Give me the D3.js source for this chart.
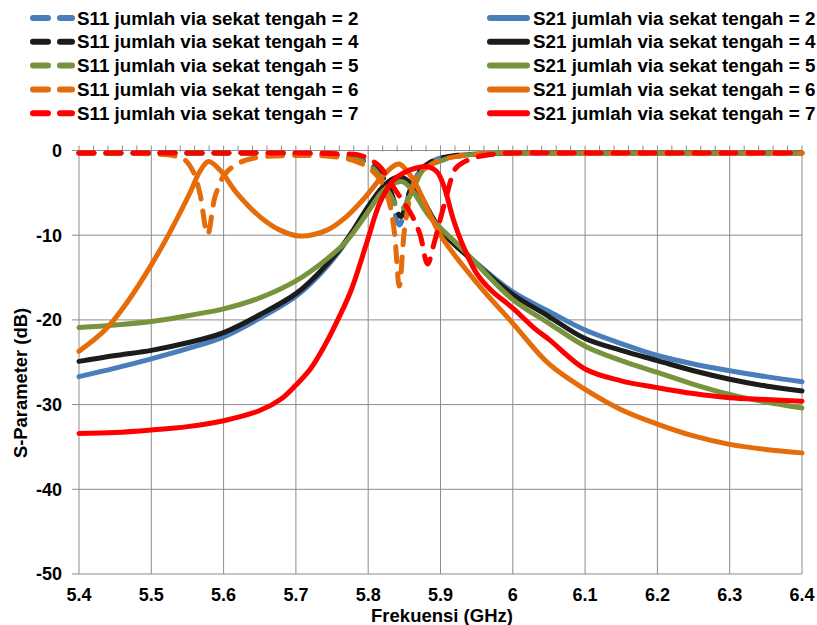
<!DOCTYPE html>
<html lang="en">
<head>
    <meta charset="UTF-8">
    <title>S-Parameter vs Frekuensi</title>
    <script src="https://d3js.org/d3.v7.min.js"></script>
    <style>
        body { margin: 0; background: #fff; }
        text { font-family: "Liberation Sans", Arial, sans-serif; font-weight: bold; fill: #000; }
    </style>
</head>
<body>
<svg width="817" height="625"></svg>

<script>
    // values: [frequency GHz, dB]
    const s11_n2 = [[5.4,-0.3],[5.5,-0.3],[5.6,-0.3],[5.7,-0.35],[5.75,-0.5],[5.78,-0.9],[5.8,-1.5],[5.815,-2.7],[5.83,-5.0],[5.843,-8.8],[5.856,-5.3],[5.87,-2.6],[5.89,-1.2],[5.92,-0.6],[5.96,-0.4],[6.0,-0.3],[6.1,-0.3],[6.2,-0.3],[6.3,-0.3],[6.4,-0.3]];
    const s11_n4 = [[5.4,-0.3],[5.5,-0.3],[5.6,-0.3],[5.7,-0.35],[5.75,-0.5],[5.78,-0.9],[5.8,-1.5],[5.815,-2.6],[5.83,-4.6],[5.845,-7.8],[5.857,-4.9],[5.87,-2.5],[5.89,-1.2],[5.92,-0.6],[5.96,-0.4],[6.0,-0.3],[6.1,-0.3],[6.2,-0.3],[6.3,-0.3],[6.4,-0.3]];
    const s11_n5 = [[5.4,-0.3],[5.5,-0.3],[5.6,-0.3],[5.7,-0.35],[5.75,-0.5],[5.78,-0.9],[5.798,-1.5],[5.816,-3.0],[5.83,-5.2],[5.845,-7.0],[5.862,-4.6],[5.876,-2.3],[5.904,-1.1],[5.94,-0.5],[6.0,-0.3],[6.1,-0.3],[6.2,-0.3],[6.3,-0.3],[6.4,-0.3]];
    const s11_n6 = [[5.4,-0.3],[5.45,-0.3],[5.5,-0.4],[5.53,-0.6],[5.545,-1.0],[5.558,-2.5],[5.567,-5.0],[5.578,-9.9],[5.588,-5.5],[5.6,-3.0],[5.613,-1.9],[5.632,-1.1],[5.66,-0.7],[5.7,-0.6],[5.75,-0.7],[5.78,-1.2],[5.8,-2.0],[5.815,-3.3],[5.828,-5.8],[5.836,-9.5],[5.843,-16.0],[5.85,-9.5],[5.858,-5.5],[5.867,-3.1],[5.89,-1.5],[5.905,-1.0],[5.94,-0.5],[6.0,-0.3],[6.1,-0.3],[6.2,-0.3],[6.3,-0.3],[6.4,-0.3]];
    const s11_n7 = [[5.4,-0.3],[5.5,-0.3],[5.6,-0.3],[5.7,-0.3],[5.75,-0.35],[5.79,-0.6],[5.803,-1.1],[5.816,-1.9],[5.834,-4.2],[5.848,-6.0],[5.86,-7.6],[5.872,-10.0],[5.882,-13.4],[5.891,-11.0],[5.9,-8.0],[5.908,-5.5],[5.915,-3.3],[5.922,-2.0],[5.945,-0.9],[5.977,-0.4],[6.0,-0.3],[6.1,-0.3],[6.2,-0.3],[6.3,-0.3],[6.4,-0.3]];

    const s21_n2 = [[5.4,-26.7],[5.45,-25.7],[5.5,-24.6],[5.55,-23.4],[5.6,-22.0],[5.65,-19.8],[5.7,-17.2],[5.73,-14.9],[5.76,-11.9],[5.78,-9.4],[5.8,-6.7],[5.82,-4.4],[5.835,-3.4],[5.845,-3.2],[5.855,-3.7],[5.87,-5.1],[5.9,-9.3],[5.95,-13.3],[6.0,-16.7],[6.05,-19.0],[6.1,-21.2],[6.15,-22.8],[6.2,-24.2],[6.25,-25.2],[6.3,-26.0],[6.35,-26.7],[6.4,-27.3]];
    const s21_n4 = [[5.4,-24.9],[5.45,-24.2],[5.5,-23.6],[5.55,-22.7],[5.6,-21.5],[5.65,-19.4],[5.7,-16.9],[5.73,-14.6],[5.76,-11.7],[5.78,-9.3],[5.8,-6.6],[5.82,-4.3],[5.835,-3.3],[5.845,-3.1],[5.855,-3.6],[5.87,-5.0],[5.9,-9.4],[5.95,-13.4],[6.0,-17.0],[6.05,-19.6],[6.1,-22.2],[6.15,-23.6],[6.2,-24.8],[6.25,-26.0],[6.3,-27.0],[6.35,-27.8],[6.4,-28.4]];
    const s21_n5 = [[5.4,-20.9],[5.45,-20.6],[5.5,-20.2],[5.55,-19.5],[5.6,-18.7],[5.65,-17.4],[5.7,-15.4],[5.74,-13.0],[5.77,-10.7],[5.8,-7.2],[5.82,-4.8],[5.835,-3.9],[5.848,-3.7],[5.86,-4.6],[5.885,-7.8],[5.93,-11.6],[6.0,-17.6],[6.05,-20.4],[6.1,-23.1],[6.15,-24.8],[6.2,-26.2],[6.25,-27.6],[6.3,-28.8],[6.35,-29.7],[6.4,-30.4]];
    const s21_n6 = [[5.4,-23.7],[5.436,-21.2],[5.466,-18.0],[5.5,-13.5],[5.526,-9.6],[5.554,-4.9],[5.567,-2.5],[5.579,-1.3],[5.595,-2.3],[5.618,-5.0],[5.65,-7.8],[5.678,-9.4],[5.706,-10.1],[5.743,-9.4],[5.77,-7.8],[5.798,-5.3],[5.816,-3.4],[5.834,-1.9],[5.843,-1.6],[5.862,-3.4],[5.88,-6.5],[5.9,-10.0],[5.95,-15.6],[6.0,-20.4],[6.05,-25.2],[6.1,-28.2],[6.15,-30.6],[6.2,-32.3],[6.25,-33.7],[6.3,-34.7],[6.35,-35.3],[6.4,-35.7]];
    const s21_n7 = [[5.4,-33.4],[5.45,-33.3],[5.5,-33.0],[5.55,-32.6],[5.6,-31.9],[5.65,-30.7],[5.68,-29.3],[5.7,-27.7],[5.72,-25.8],[5.74,-23.0],[5.751,-21.2],[5.775,-16.8],[5.798,-10.9],[5.816,-6.2],[5.834,-3.6],[5.85,-2.6],[5.865,-2.1],[5.88,-1.9],[5.895,-2.5],[5.905,-4.3],[5.918,-8.2],[5.932,-11.4],[5.95,-14.5],[5.97,-16.5],[6.0,-18.6],[6.03,-21.0],[6.05,-22.3],[6.1,-25.8],[6.15,-27.2],[6.2,-28.0],[6.25,-28.7],[6.3,-29.2],[6.35,-29.4],[6.4,-29.6]];

    const viaCounts = [2, 4, 5, 6, 7];
    const colors = ["#4a7ebb", "#1c1c1c", "#77933c", "#e46c0a", "#ff0000"];
    const s11All = [s11_n2, s11_n4, s11_n5, s11_n6, s11_n7];
    const s21All = [s21_n2, s21_n4, s21_n5, s21_n6, s21_n7];

    const xTicks = [5.4, 5.5, 5.6, 5.7, 5.8, 5.9, 6.0, 6.1, 6.2, 6.3, 6.4];
    const yTicks = [0, -10, -20, -30, -40, -50];

    const svg = d3.select("svg");
    const plotL = 79, plotR = 802, plotT = 150.5, plotB = 574;

    const x = d3.scaleLinear().domain([5.4, 6.4]).range([plotL, plotR]);
    const y = d3.scaleLinear().domain([-50, 0]).range([plotB, plotT]);

    // grid
    const grid = svg.append("g").attr("stroke", "#8c8c8c").attr("stroke-width", 1);
    grid.selectAll(".vg").data(xTicks).enter().append("line")
        .attr("x1", d => x(d)).attr("x2", d => x(d))
        .attr("y1", plotT).attr("y2", plotB);
    grid.selectAll(".hg").data(yTicks).enter().append("line")
        .attr("x1", plotL - 7).attr("x2", plotR)
        .attr("y1", d => y(d)).attr("y2", d => y(d));

    // minor ticks on the zero line
    grid.selectAll(".mt").data(d3.range(0, 51).map(i => 5.4 + i * 0.02)).enter().append("line")
        .attr("x1", d => x(d)).attr("x2", d => x(d))
        .attr("y1", y(0) - 5).attr("y2", y(0) + 1);

    // tick labels
    svg.append("g").selectAll("text").data(xTicks).enter().append("text")
        .attr("x", d => x(d)).attr("y", 601)
        .attr("text-anchor", "middle").attr("font-size", 18)
        .text(d => +d.toFixed(1));
    svg.append("g").selectAll("text").data(yTicks).enter().append("text")
        .attr("x", 62).attr("y", d => y(d)).attr("dy", "0.35em")
        .attr("text-anchor", "end").attr("font-size", 18)
        .text(d => d);

    // axis titles
    svg.append("text").attr("x", 442).attr("y", 622)
        .attr("text-anchor", "middle").attr("font-size", 18.5)
        .text("Frekuensi (GHz)");
    svg.append("text").attr("transform", "translate(27,383) rotate(-90)")
        .attr("text-anchor", "middle").attr("font-size", 18.4)
        .text("S-Parameter (dB)");

    const line = d3.line()
        .x(d => x(d[0])).y(d => y(d[1]))
        .curve(d3.curveCatmullRom.alpha(0.5));

    // series, drawn in the order Excel lists them
    const plot = svg.append("g").attr("fill", "none")
        .attr("stroke-width", 5).attr("stroke-linecap", "round").attr("stroke-linejoin", "round");
    viaCounts.forEach((n, i) => {
        plot.append("path").attr("d", line(s11All[i]))
            .attr("stroke", colors[i]).attr("stroke-dasharray", "15,12");
        plot.append("path").attr("d", line(s21All[i]))
            .attr("stroke", colors[i]);
    });

    // legend
    const legend = svg.append("g");
    viaCounts.forEach((n, i) => {
        const base = 24.5 + i * 23.8;
        legend.append("line")
            .attr("x1", 33).attr("x2", 72).attr("y1", base - 6.5).attr("y2", base - 6.5)
            .attr("stroke", colors[i]).attr("stroke-width", 6)
            .attr("stroke-linecap", "round").attr("stroke-dasharray", "15,12");
        legend.append("text").attr("x", 77).attr("y", base)
            .attr("font-size", 18.8)
            .text("S11 jumlah via sekat tengah = " + n);
        legend.append("line")
            .attr("x1", 490).attr("x2", 527).attr("y1", base - 6.5).attr("y2", base - 6.5)
            .attr("stroke", colors[i]).attr("stroke-width", 6)
            .attr("stroke-linecap", "round");
        legend.append("text").attr("x", 533).attr("y", base)
            .attr("font-size", 18.8)
            .text("S21 jumlah via sekat tengah = " + n);
    });
</script>
</body>
</html>
